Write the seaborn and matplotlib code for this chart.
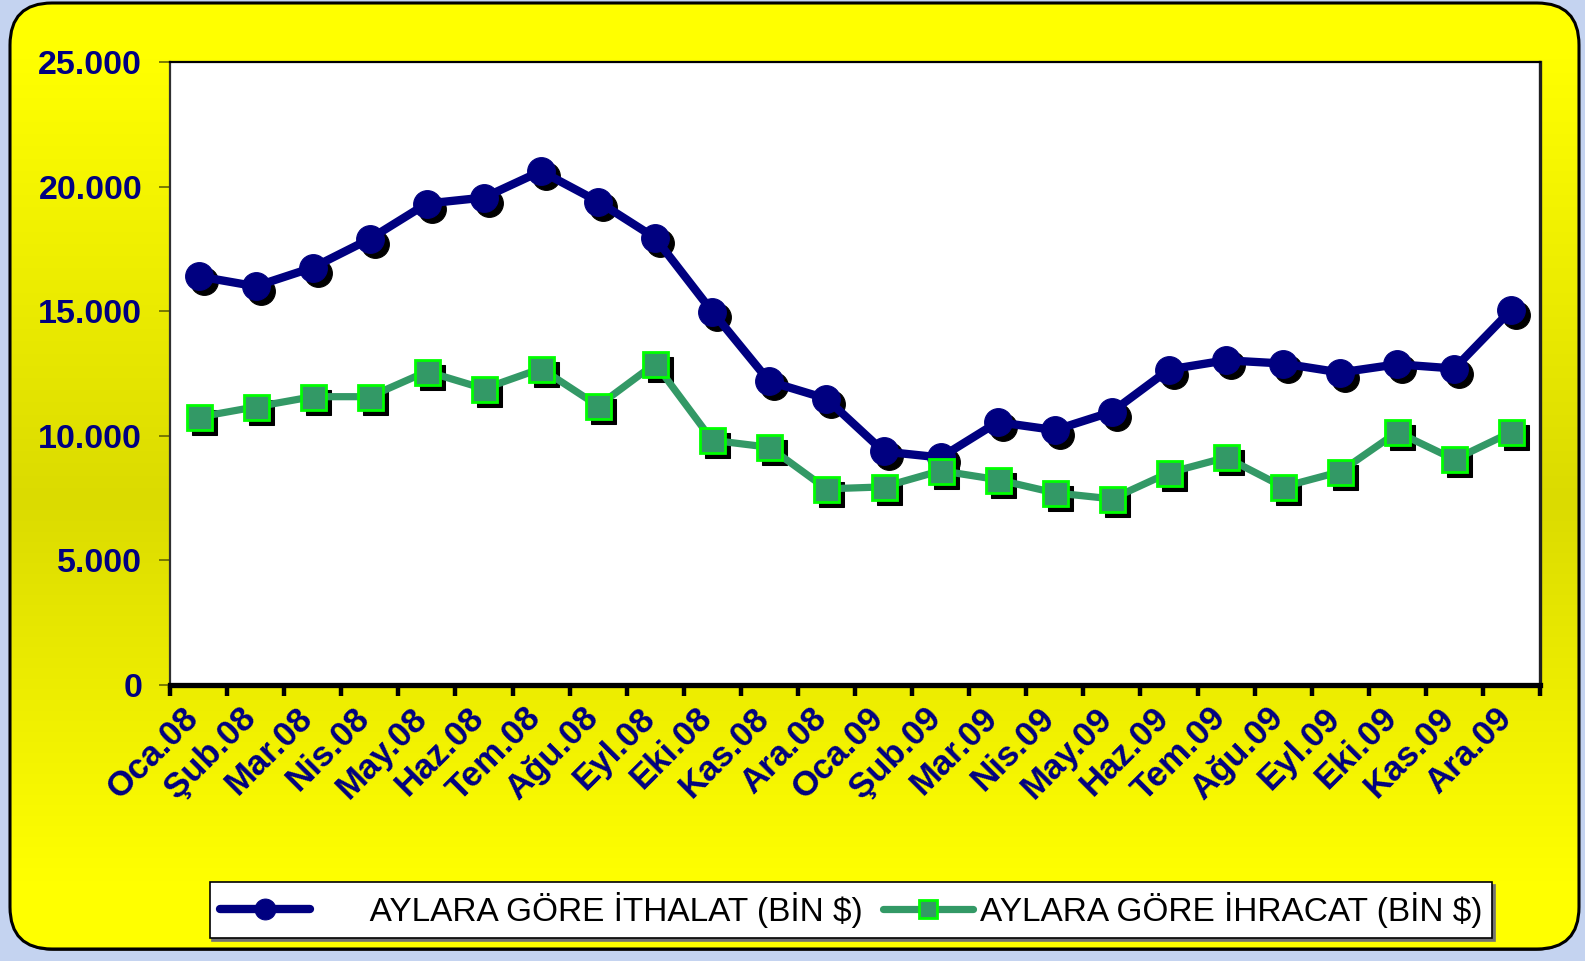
import numpy as np
import pandas as pd
import seaborn as sns
import matplotlib
matplotlib.use("Agg")
import matplotlib.pyplot as plt
from matplotlib import font_manager
from matplotlib.patches import FancyBboxPatch
from matplotlib.ticker import FixedLocator, FuncFormatter, NullFormatter
import matplotlib.transforms as mtransforms

# ---------------- data ----------------
months = ["Oca.08", "Şub.08", "Mar.08", "Nis.08", "May.08", "Haz.08", "Tem.08", "Ağu.08",
          "Eyl.08", "Eki.08", "Kas.08", "Ara.08", "Oca.09", "Şub.09", "Mar.09", "Nis.09",
          "May.09", "Haz.09", "Tem.09", "Ağu.09", "Eyl.09", "Eki.09", "Kas.09", "Ara.09"]
imports = [16400, 16000, 16750, 17900, 19320, 19560, 20620, 19400,
           17940, 14980, 12180, 11490, 9370, 9130, 10550, 10230,
           10960, 12660, 13030, 12900, 12540, 12870, 12700, 15060]
exports = [10750, 11160, 11570, 11570, 12580, 11890, 12700, 11200,
           12900, 9820, 9540, 7870, 7950, 8600, 8240, 7710,
           7470, 8520, 9130, 7950, 8560, 10150, 9050, 10150]
label_imp = "AYLARA GÖRE İTHALAT (BİN $)"
label_exp = "AYLARA GÖRE İHRACAT (BİN $)"
y_ticks = [0, 5000, 10000, 15000, 20000, 25000]

df = pd.DataFrame({"idx": np.arange(len(months)), "month": months,
                   "imports": imports, "exports": exports})

# ---------------- style ----------------
sns.set_theme(style="white")
plt.rcParams["font.family"] = ["Liberation Sans", "DejaVu Sans"]

names = {f.name for f in font_manager.fontManager.ttflist}
if "Liberation Sans Narrow" in names:
    leg_family = ["Liberation Sans Narrow", "Liberation Sans", "DejaVu Sans"]
    leg_size = 27
else:
    leg_family = ["Liberation Sans", "DejaVu Sans"]
    leg_size = 24

NAVY = "#000080"
GREEN = "#339966"
GREEN_EDGE = "#00FF00"
W, H = 1585, 961

fig = plt.figure(figsize=(W / 100, H / 100), dpi=100)
fig.patch.set_facecolor("#C4D3F0")

# background panel with vertical gradient, rounded corners
bg = fig.add_axes([0, 0, 1, 1], zorder=0)
bg.set_xlim(0, W)
bg.set_ylim(H, 0)
bg.axis("off")
yy = np.linspace(0, H, 400)
lev = np.interp(yy, [0, 60, 500, 880, H], [255, 255, 219, 255, 255]) / 255.0
grad = np.zeros((len(yy), 1, 3))
grad[:, 0, 0] = lev
grad[:, 0, 1] = lev
grad[:, 0, 2] = 0.0
shadow_panel = FancyBboxPatch((12, 8), W - 12 - 8, H - 8 - 10,
                              boxstyle="round,pad=0,rounding_size=42",
                              facecolor="#404040", edgecolor="none", zorder=1)
bg.add_patch(shadow_panel)
panel = FancyBboxPatch((10, 3), W - 10 - 6, H - 3 - 12,
                       boxstyle="round,pad=0,rounding_size=42",
                       facecolor="none", edgecolor="black", linewidth=2.2, zorder=3)
bg.add_patch(panel)
im = bg.imshow(grad, extent=[0, W, H, 0], aspect="auto", zorder=2, interpolation="bilinear")
im.set_clip_path(panel)

# main axes
L, R, T, B = 170, 1540, 62, 685
ax = fig.add_axes([L / W, 1 - B / H, (R - L) / W, (B - T) / H], zorder=5)
ax.set_facecolor("white")

# shadows of markers
shadow_tf = ax.transData + mtransforms.ScaledTranslation(5 / 100, -5 / 100, fig.dpi_scale_trans)
sns.lineplot(data=df, x="idx", y="imports", ax=ax, linestyle="none", marker="o",
             markersize=20, color="black", markeredgecolor="black", transform=shadow_tf,
             legend=False, zorder=2)
sns.lineplot(data=df, x="idx", y="exports", ax=ax, linestyle="none", marker="s",
             markersize=18, color="black", markeredgecolor="black", transform=shadow_tf,
             legend=False, zorder=2)

# series
sns.lineplot(data=df, x="idx", y="imports", ax=ax, color=NAVY, linewidth=6,
             marker="o", markersize=20, markeredgecolor=NAVY, markerfacecolor=NAVY,
             label="      " + label_imp, zorder=4, sort=False)
sns.lineplot(data=df, x="idx", y="exports", ax=ax, color=GREEN, linewidth=5.2,
             marker="s", markersize=18, markeredgecolor=GREEN_EDGE, markeredgewidth=2,
             markerfacecolor=GREEN, label=label_exp, zorder=5, sort=False)

n = len(months)
ax.set_xlim(-0.5, n - 0.5)
ax.set_ylim(0, 25000)
ax.set_xlabel("")
ax.set_ylabel("")

# x ticks: marks at boundaries, labels at centres
ax.xaxis.set_major_locator(FixedLocator(np.arange(n + 1) - 0.5))
ax.xaxis.set_major_formatter(NullFormatter())
ax.xaxis.set_minor_locator(FixedLocator(np.arange(n)))
ax.set_xticks(np.arange(n), labels=months, minor=True)
ax.tick_params(axis="x", which="major", direction="out", length=8, width=3.2,
               color="black", bottom=True)
ax.tick_params(axis="x", which="minor", length=0, pad=20, bottom=True)
x_off = mtransforms.ScaledTranslation(-5 / 100, 0, fig.dpi_scale_trans)
for lbl in ax.get_xticklabels(minor=True):
    lbl.set_rotation(45)
    lbl.set_ha("right")
    lbl.set_va("center")
    lbl.set_rotation_mode("anchor")
    lbl.set_fontsize(25)
    lbl.set_fontweight("bold")
    lbl.set_color(NAVY)
    lbl.set_transform(lbl.get_transform() + x_off)

ax.yaxis.set_major_locator(FixedLocator(y_ticks))
ax.yaxis.set_major_formatter(FuncFormatter(lambda v, p: f"{int(v):,}".replace(",", ".")))
ax.tick_params(axis="y", direction="out", length=8, width=1.3, color="#707000", pad=12,
               labelsize=24.5, labelcolor=NAVY, left=True)
for lbl in ax.get_yticklabels():
    lbl.set_fontweight("bold")

for s, lw, c in [("top", 1.6, "black"), ("right", 2.4, "#202020"),
                 ("left", 1.6, "#303030"), ("bottom", 3.8, "black")]:
    ax.spines[s].set_visible(True)
    ax.spines[s].set_linewidth(lw)
    ax.spines[s].set_color(c)
ax.grid(False)

# legend
handles, labels = ax.get_legend_handles_labels()
leg = ax.legend(handles, labels, loc="center", ncol=2,
                bbox_to_anchor=(851 / W, 1 - 910 / H), bbox_transform=fig.transFigure,
                prop={"family": leg_family, "size": leg_size},
                frameon=True, fancybox=False, shadow={"color": "0.45", "alpha": 1},
                markerscale=0.75, handlelength=2.7, handletextpad=0.2,
                columnspacing=0.6, borderpad=0.3, borderaxespad=0)
leg.get_frame().set_edgecolor("black")
leg.get_frame().set_linewidth(1.2)
leg.get_frame().set_facecolor("white")
leg.set_zorder(10)
for t in leg.get_texts():
    t.set_color("black")

fig.savefig("out.png", dpi=100, facecolor=fig.get_facecolor())
